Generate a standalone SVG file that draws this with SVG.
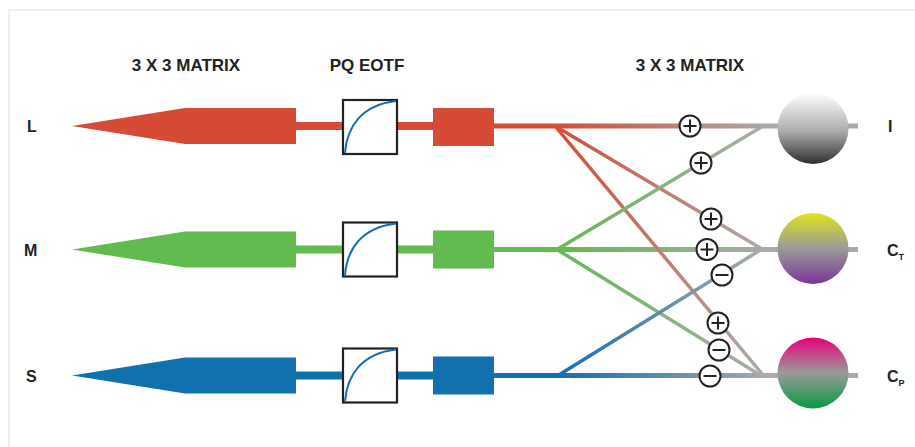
<svg xmlns="http://www.w3.org/2000/svg" width="915" height="447" viewBox="0 0 915 447">
<defs>
<style>
.hdr{font-family:"Liberation Sans",Arial,sans-serif;font-weight:bold;font-size:17px;fill:#222;text-anchor:middle}
.lbl{font-family:"Liberation Sans",Arial,sans-serif;font-weight:bold;font-size:16px;fill:#222}
.sub{font-size:9px}
.box{fill:#fff;stroke:#222;stroke-width:2.2}
.curve{fill:none;stroke:#1170ae;stroke-width:2}
.op{fill:#fff;stroke:#222;stroke-width:2}
.sg{stroke:#222;stroke-width:2;stroke-linecap:butt}
.diag{fill:none;stroke-width:3.5}
</style>
<linearGradient id="gL" gradientUnits="userSpaceOnUse" x1="555" y1="0" x2="770" y2="0"><stop offset="0" stop-color="#d64b35"/><stop offset="1" stop-color="#aaaaaa"/></linearGradient>
<linearGradient id="gM" gradientUnits="userSpaceOnUse" x1="557" y1="0" x2="770" y2="0"><stop offset="0" stop-color="#62bb4f"/><stop offset="1" stop-color="#aaaaaa"/></linearGradient>
<linearGradient id="gS" gradientUnits="userSpaceOnUse" x1="558" y1="0" x2="770" y2="0"><stop offset="0" stop-color="#1170ae"/><stop offset="1" stop-color="#aaaaaa"/></linearGradient>
<linearGradient id="gR1" gradientUnits="userSpaceOnUse" x1="555" y1="126" x2="763" y2="375"><stop offset="0" stop-color="#d64b35"/><stop offset="1" stop-color="#aaaaaa"/></linearGradient>
<linearGradient id="gR2" gradientUnits="userSpaceOnUse" x1="555" y1="126" x2="762" y2="249"><stop offset="0" stop-color="#d64b35"/><stop offset="1" stop-color="#aaaaaa"/></linearGradient>
<linearGradient id="gG1" gradientUnits="userSpaceOnUse" x1="557" y1="249" x2="763" y2="126"><stop offset="0" stop-color="#62bb4f"/><stop offset="1" stop-color="#aaaaaa"/></linearGradient>
<linearGradient id="gG2" gradientUnits="userSpaceOnUse" x1="557" y1="249" x2="760" y2="375"><stop offset="0" stop-color="#62bb4f"/><stop offset="1" stop-color="#aaaaaa"/></linearGradient>
<linearGradient id="gB1" gradientUnits="userSpaceOnUse" x1="558" y1="375" x2="762" y2="249"><stop offset="0" stop-color="#1170ae"/><stop offset="1" stop-color="#aaaaaa"/></linearGradient>
<linearGradient id="sI" x1="0" y1="0" x2="0" y2="1"><stop offset="0" stop-color="#ffffff"/><stop offset="0.55" stop-color="#aaaaaa"/><stop offset="1" stop-color="#2e2e2e"/></linearGradient>
<linearGradient id="sT" x1="0" y1="0" x2="0" y2="1"><stop offset="0" stop-color="#dfe31c"/><stop offset="0.5" stop-color="#9a9a9a"/><stop offset="1" stop-color="#7b3596"/></linearGradient>
<linearGradient id="sP" x1="0" y1="0" x2="0" y2="1"><stop offset="0" stop-color="#e6007e"/><stop offset="0.5" stop-color="#9a9a9a"/><stop offset="1" stop-color="#089a40"/></linearGradient>
<g id="plus"><circle class="op" r="10.5"/><line class="sg" x1="-6.5" y1="0" x2="6.5" y2="0"/><line class="sg" x1="0" y1="-6.5" x2="0" y2="6.5"/></g>
<g id="minus"><circle class="op" r="10.5"/><line class="sg" x1="-6.5" y1="0" x2="6.5" y2="0"/></g>
</defs>
<rect width="915" height="447" fill="#fff"/>
<path d="M9,447 V10 H915" fill="none" stroke="#f0f0f0" stroke-width="2"/>
<g id="headers">
<text class="hdr" x="186" y="71">3 X 3 MATRIX</text>
<text class="hdr" x="367" y="71">PQ EOTF</text>
<text class="hdr" x="690" y="71">3 X 3 MATRIX</text>
</g>
<g id="connectors">
<line x1="494" y1="126" x2="858" y2="126" stroke="url(#gL)" stroke-width="5"/>
<line x1="494" y1="249.5" x2="858" y2="249.5" stroke="url(#gM)" stroke-width="5"/>
<line x1="494" y1="375.5" x2="858" y2="375.5" stroke="url(#gS)" stroke-width="5"/>
<line class="diag" x1="555" y1="126" x2="763" y2="375" stroke="url(#gR1)"/>
<line class="diag" x1="555" y1="126" x2="762" y2="249" stroke="url(#gR2)"/>
<line class="diag" x1="557" y1="249.5" x2="763" y2="126" stroke="url(#gG1)"/>
<line class="diag" x1="557" y1="249.5" x2="760" y2="375" stroke="url(#gG2)" stroke-width="2.6"/>
<line class="diag" x1="558" y1="375.5" x2="762" y2="249" stroke="url(#gB1)"/>
</g>
<g id="row-L" transform="translate(0,126)">
<text class="lbl" x="27" y="6">L</text>
<path d="M72,0 L185,-18 H296 V18 H185 Z" fill="#d64b35"/>
<rect x="296" y="-4" width="47" height="8" fill="#d64b35"/>
<rect x="397" y="-4" width="36" height="8" fill="#d64b35"/>
<rect class="box" x="343" y="-26" width="54" height="54"/>
<path class="curve" d="M345,27 C347,0 362,-21 396,-25"/>
<rect x="433" y="-18" width="61" height="38" fill="#d64b35"/>
</g>
<g id="row-M" transform="translate(0,249.5)">
<text class="lbl" x="24" y="6">M</text>
<path d="M72,0 L185,-18 H296 V18 H185 Z" fill="#62bb4f"/>
<rect x="296" y="-4" width="47" height="8" fill="#62bb4f"/>
<rect x="397" y="-4" width="36" height="8" fill="#62bb4f"/>
<rect class="box" x="343" y="-27" width="54" height="54"/>
<path class="curve" d="M345,26 C347,-1 362,-22 396,-26"/>
<rect x="433" y="-19" width="61" height="38" fill="#62bb4f"/>
</g>
<g id="row-S" transform="translate(0,375.5)">
<text class="lbl" x="26" y="6">S</text>
<path d="M72,0 L185,-18 H296 V18 H185 Z" fill="#1170ae"/>
<rect x="296" y="-4" width="47" height="8" fill="#1170ae"/>
<rect x="397" y="-4" width="36" height="8" fill="#1170ae"/>
<rect class="box" x="343" y="-27" width="54" height="54"/>
<path class="curve" d="M345,26 C347,-1 362,-22 396,-26"/>
<rect x="433" y="-19" width="61" height="38" fill="#1170ae"/>
</g>
<g id="operators">
<use href="#plus" x="690" y="126"/>
<use href="#plus" x="701" y="163"/>
<use href="#plus" x="711" y="219"/>
<use href="#plus" x="707" y="249.5"/>
<use href="#minus" x="722" y="275"/>
<use href="#plus" x="718" y="323"/>
<use href="#minus" x="719" y="350"/>
<use href="#minus" x="710" y="376"/>
</g>
<g id="out-I">
<circle cx="813" cy="128.5" r="35.5" fill="url(#sI)"/>
<text class="lbl" x="888" y="132">I</text>
</g>
<g id="out-CT">
<circle cx="813" cy="248.5" r="35.5" fill="url(#sT)"/>
<text class="lbl" x="887" y="256">C<tspan class="sub" dy="4">T</tspan></text>
</g>
<g id="out-CP">
<circle cx="813" cy="373" r="35.5" fill="url(#sP)"/>
<text class="lbl" x="887" y="382">C<tspan class="sub" dy="4">P</tspan></text>
</g>
</svg>
